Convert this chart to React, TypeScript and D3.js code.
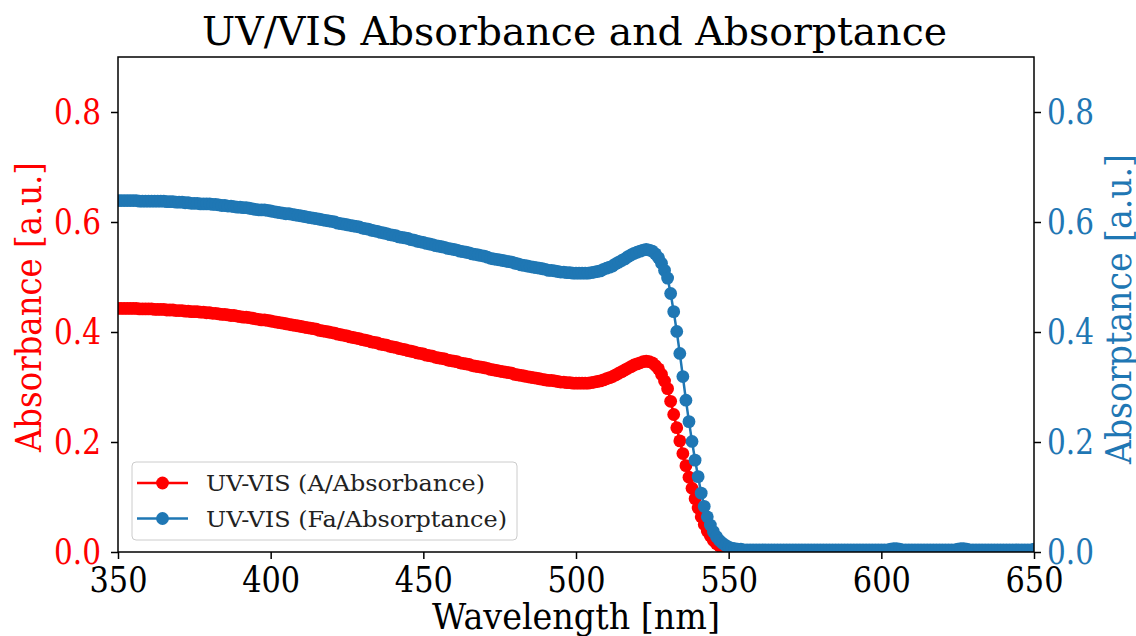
import { useEffect, useRef } from 'react';
import * as d3 from 'd3';

// wavelength grid, 1 nm steps
const wavelengths = d3.range(350, 651, 1);

// UV-VIS absorbance (left axis)
const absorbance = [
  0.443, 0.443, 0.443, 0.443, 0.443, 0.443, 0.443, 0.442, 0.442, 0.442,
  0.442, 0.442, 0.441, 0.441, 0.441, 0.441, 0.440, 0.440, 0.440, 0.439,
  0.439, 0.439, 0.438, 0.438, 0.437, 0.437, 0.437, 0.436, 0.436, 0.435,
  0.435, 0.434, 0.434, 0.433, 0.432, 0.432, 0.431, 0.430, 0.430, 0.429,
  0.428, 0.427, 0.427, 0.426, 0.425, 0.424, 0.423, 0.422, 0.422, 0.421,
  0.420, 0.419, 0.418, 0.417, 0.416, 0.415, 0.414, 0.413, 0.412, 0.411,
  0.410, 0.409, 0.408, 0.407, 0.406, 0.405, 0.403, 0.402, 0.401, 0.400,
  0.399, 0.398, 0.396, 0.395, 0.394, 0.393, 0.391, 0.390, 0.389, 0.388,
  0.386, 0.385, 0.384, 0.382, 0.381, 0.380, 0.378, 0.377, 0.376, 0.374,
  0.373, 0.372, 0.370, 0.369, 0.368, 0.366, 0.365, 0.364, 0.362, 0.361,
  0.360, 0.358, 0.357, 0.356, 0.354, 0.353, 0.352, 0.351, 0.349, 0.348,
  0.347, 0.346, 0.344, 0.343, 0.342, 0.341, 0.339, 0.338, 0.337, 0.336,
  0.335, 0.334, 0.332, 0.331, 0.330, 0.329, 0.328, 0.327, 0.326, 0.325,
  0.323, 0.322, 0.321, 0.320, 0.319, 0.318, 0.317, 0.316, 0.315, 0.314,
  0.313, 0.312, 0.312, 0.311, 0.310, 0.309, 0.309, 0.308, 0.308, 0.307,
  0.307, 0.307, 0.307, 0.307, 0.307, 0.308, 0.309, 0.310, 0.311, 0.313,
  0.315, 0.317, 0.319, 0.322, 0.325, 0.328, 0.331, 0.334, 0.337, 0.340,
  0.342, 0.344, 0.346, 0.347, 0.346, 0.344, 0.339, 0.333, 0.323, 0.311,
  0.297, 0.274, 0.250, 0.226, 0.202, 0.179, 0.157, 0.136, 0.116, 0.097,
  0.080, 0.064, 0.050, 0.038, 0.029, 0.021, 0.015, 0.011, 0.008, 0.006,
  0.004, 0.003, 0.002, 0.002, 0.001, 0.001, 0.001, 0.001, 0.001, 0.001,
  0.001, 0.001, 0.001, 0.001, 0.001, 0.001, 0.001, 0.001, 0.001, 0.001,
  0.001, 0.001, 0.001, 0.001, 0.001, 0.001, 0.001, 0.001, 0.001, 0.001,
  0.001, 0.001, 0.001, 0.001, 0.001, 0.001, 0.001, 0.001, 0.001, 0.001,
  0.001, 0.001, 0.001, 0.001, 0.001, 0.001, 0.001, 0.001, 0.001, 0.001,
  0.001, 0.001, 0.001, 0.001, 0.002, 0.002, 0.001, 0.001, 0.001, 0.001,
  0.001, 0.001, 0.001, 0.001, 0.001, 0.001, 0.001, 0.001, 0.001, 0.001,
  0.001, 0.001, 0.001, 0.001, 0.001, 0.001, 0.002, 0.002, 0.001, 0.001,
  0.001, 0.001, 0.001, 0.001, 0.001, 0.001, 0.001, 0.001, 0.001, 0.001,
  0.001, 0.001, 0.001, 0.001, 0.001, 0.001, 0.001, 0.001, 0.001, 0.001,
  0.001,
];

// absorptance (right axis)
const absorptance = [
  0.639, 0.639, 0.639, 0.639, 0.639, 0.639, 0.639, 0.638, 0.638, 0.638,
  0.638, 0.638, 0.638, 0.638, 0.638, 0.638, 0.637, 0.637, 0.637, 0.636,
  0.636, 0.636, 0.635, 0.635, 0.634, 0.634, 0.634, 0.633, 0.633, 0.633,
  0.633, 0.632, 0.632, 0.631, 0.630, 0.630, 0.629, 0.629, 0.628, 0.627,
  0.627, 0.626, 0.626, 0.625, 0.624, 0.623, 0.622, 0.622, 0.622, 0.621,
  0.620, 0.619, 0.618, 0.617, 0.616, 0.615, 0.615, 0.614, 0.613, 0.612,
  0.611, 0.610, 0.609, 0.608, 0.607, 0.606, 0.605, 0.604, 0.603, 0.602,
  0.601, 0.600, 0.598, 0.597, 0.596, 0.595, 0.594, 0.593, 0.592, 0.591,
  0.589, 0.588, 0.587, 0.585, 0.584, 0.583, 0.581, 0.580, 0.579, 0.577,
  0.576, 0.575, 0.573, 0.572, 0.571, 0.570, 0.568, 0.567, 0.565, 0.564,
  0.563, 0.561, 0.560, 0.559, 0.557, 0.556, 0.555, 0.554, 0.552, 0.551,
  0.550, 0.549, 0.547, 0.546, 0.545, 0.544, 0.542, 0.541, 0.540, 0.539,
  0.538, 0.536, 0.534, 0.533, 0.532, 0.531, 0.530, 0.529, 0.528, 0.527,
  0.525, 0.524, 0.522, 0.521, 0.520, 0.519, 0.518, 0.517, 0.516, 0.515,
  0.514, 0.512, 0.512, 0.511, 0.510, 0.509, 0.509, 0.508, 0.508, 0.507,
  0.507, 0.507, 0.507, 0.507, 0.507, 0.508, 0.509, 0.510, 0.511, 0.514,
  0.516, 0.518, 0.520, 0.524, 0.527, 0.530, 0.533, 0.537, 0.540, 0.543,
  0.545, 0.547, 0.549, 0.550, 0.549, 0.547, 0.542, 0.535, 0.525, 0.512,
  0.498, 0.470, 0.437, 0.401, 0.361, 0.319, 0.276, 0.237, 0.201, 0.167,
  0.137, 0.107, 0.083, 0.064, 0.049, 0.037, 0.028, 0.021, 0.016, 0.012,
  0.009, 0.007, 0.006, 0.005, 0.005, 0.004, 0.004, 0.004, 0.004, 0.004,
  0.004, 0.004, 0.004, 0.004, 0.004, 0.004, 0.004, 0.004, 0.004, 0.004,
  0.004, 0.004, 0.004, 0.004, 0.004, 0.004, 0.004, 0.004, 0.004, 0.004,
  0.004, 0.004, 0.004, 0.004, 0.004, 0.004, 0.004, 0.004, 0.004, 0.004,
  0.004, 0.004, 0.004, 0.004, 0.004, 0.004, 0.004, 0.004, 0.004, 0.004,
  0.004, 0.004, 0.004, 0.005, 0.006, 0.006, 0.005, 0.004, 0.004, 0.004,
  0.004, 0.004, 0.004, 0.004, 0.004, 0.004, 0.004, 0.004, 0.004, 0.004,
  0.004, 0.004, 0.004, 0.004, 0.004, 0.005, 0.006, 0.006, 0.005, 0.004,
  0.004, 0.004, 0.004, 0.004, 0.004, 0.004, 0.004, 0.004, 0.004, 0.004,
  0.004, 0.004, 0.004, 0.004, 0.004, 0.004, 0.004, 0.004, 0.004, 0.004,
  0.005,
];

const xTicks = [350, 400, 450, 500, 550, 600, 650];
const yTicks = [0, 0.2, 0.4, 0.6, 0.8];
const legendLabels = ['UV-VIS (A/Absorbance)', 'UV-VIS (Fa/Absorptance)'];

const RED = '#ff0000';
const BLUE = '#1f77b4';
const FONT = '"DejaVu Serif", serif';

export default function App() {
  const chartRef = useRef<SVGSVGElement | null>(null);

  useEffect(() => {
    if (!chartRef.current) return;
    const svg = d3.select(chartRef.current);
    svg.selectAll('*').remove();

    const width = 1136;
    const height = 636;
    const margin = { top: 57, right: 102, bottom: 84, left: 118 };
    const innerWidth = width - margin.left - margin.right;
    const innerHeight = height - margin.top - margin.bottom;

    svg.append('rect').attr('width', width).attr('height', height).attr('fill', '#fff');

    const xScale = d3.scaleLinear().domain([350, 650]).range([0, innerWidth]);
    const yLeft = d3.scaleLinear().domain([0, 0.9]).range([innerHeight, 0]);
    const yRight = d3.scaleLinear().domain([0, 0.9]).range([innerHeight, 0]);

    const g = svg.append('g').attr('transform', `translate(${margin.left}, ${margin.top})`);

    g.append('clipPath')
      .attr('id', 'plot-clip')
      .append('rect')
      .attr('width', innerWidth)
      .attr('height', innerHeight);

    const plot = g.append('g').attr('clip-path', 'url(#plot-clip)');

    const series = [
      { values: absorbance, y: yLeft, color: RED },
      { values: absorptance, y: yRight, color: BLUE }
    ];

    series.forEach((s) => {
      const line = d3
        .line<number>()
        .x((_, i) => xScale(wavelengths[i]))
        .y((d) => s.y(d));
      const sg = plot.append('g');
      sg.append('path')
        .attr('d', line(s.values))
        .attr('fill', 'none')
        .attr('stroke', s.color)
        .attr('stroke-width', 2.5);
      sg.selectAll('circle')
        .data(s.values)
        .join('circle')
        .attr('cx', (_, i) => xScale(wavelengths[i]))
        .attr('cy', (d) => s.y(d))
        .attr('r', 6.4)
        .attr('fill', s.color);
    });

    const styleAxis = (
      sel: d3.Selection<SVGGElement, unknown, null, undefined>,
      color: string,
      textLen: number
    ) => {
      sel.select('.domain').remove();
      sel.selectAll('.tick line').attr('stroke', '#000').attr('stroke-width', 1.5);
      sel.selectAll('.tick text')
        .attr('fill', color)
        .style('font-family', FONT)
        .style('font-size', '35px')
        .attr('textLength', textLen)
        .attr('lengthAdjust', 'spacingAndGlyphs');
    };

    g.append('g')
      .attr('transform', `translate(0, ${innerHeight})`)
      .call(d3.axisBottom(xScale).tickValues(xTicks).tickSize(7).tickPadding(8).tickFormat(d3.format('d')))
      .call((sel) => styleAxis(sel, '#000', 58));

    g.append('g')
      .call(d3.axisLeft(yLeft).tickValues(yTicks).tickSize(7).tickPadding(10).tickFormat(d3.format('.1f')))
      .call((sel) => styleAxis(sel, RED, 47));

    g.append('g')
      .attr('transform', `translate(${innerWidth}, 0)`)
      .call(d3.axisRight(yRight).tickValues(yTicks).tickSize(7).tickPadding(6).tickFormat(d3.format('.1f')))
      .call((sel) => styleAxis(sel, BLUE, 47));

    // frame
    g.append('rect')
      .attr('width', innerWidth)
      .attr('height', innerHeight)
      .attr('fill', 'none')
      .attr('stroke', '#000')
      .attr('stroke-width', 1.5);

    // legend
    const legend = g.append('g').attr('transform', `translate(${132 - margin.left}, ${462 - margin.top})`);
    legend.append('rect')
      .attr('width', 385)
      .attr('height', 78)
      .attr('rx', 4)
      .attr('fill', '#fff')
      .attr('fill-opacity', 0.8)
      .attr('stroke', '#cccccc');

    series.forEach((s, i) => {
      const row = legend.append('g').attr('transform', `translate(0, ${21 + i * 35.5})`);
      row.append('line').attr('x1', 5).attr('x2', 56).attr('stroke', s.color).attr('stroke-width', 2.5);
      row.append('circle').attr('cx', 30.5).attr('r', 6.4).attr('fill', s.color);
      row.append('text')
        .attr('x', 74)
        .attr('y', 8)
        .attr('fill', '#222')
        .style('font-family', FONT)
        .style('font-size', '22px')
        .attr('textLength', i === 0 ? 279 : 301)
        .attr('lengthAdjust', 'spacingAndGlyphs')
        .text(legendLabels[i]);
    });

    // title and axis labels
    svg.append('text')
      .attr('x', 574.5)
      .attr('y', 45)
      .attr('text-anchor', 'middle')
      .style('font-family', FONT)
      .style('font-size', '40px')
      .attr('textLength', 745)
      .attr('lengthAdjust', 'spacingAndGlyphs')
      .text('UV/VIS Absorbance and Absorptance');

    svg.append('text')
      .attr('x', 576)
      .attr('y', 629)
      .attr('text-anchor', 'middle')
      .style('font-family', FONT)
      .style('font-size', '35px')
      .attr('textLength', 288)
      .attr('lengthAdjust', 'spacingAndGlyphs')
      .text('Wavelength [nm]');

    svg.append('text')
      .attr('transform', 'translate(41, 307) rotate(-90)')
      .attr('text-anchor', 'middle')
      .attr('fill', RED)
      .style('font-family', FONT)
      .style('font-size', '35px')
      .attr('textLength', 290)
      .attr('lengthAdjust', 'spacingAndGlyphs')
      .text('Absorbance [a.u.]');

    svg.append('text')
      .attr('transform', 'translate(1131, 309) rotate(-90)')
      .attr('text-anchor', 'middle')
      .attr('fill', BLUE)
      .style('font-family', FONT)
      .style('font-size', '35px')
      .attr('textLength', 310)
      .attr('lengthAdjust', 'spacingAndGlyphs')
      .text('Absorptance [a.u.]');
  }, []);

  return (
    <div style={{ position: 'absolute', left: 0, top: 0 }}>
      <svg ref={chartRef} width={1136} height={636} />
    </div>
  );
}
